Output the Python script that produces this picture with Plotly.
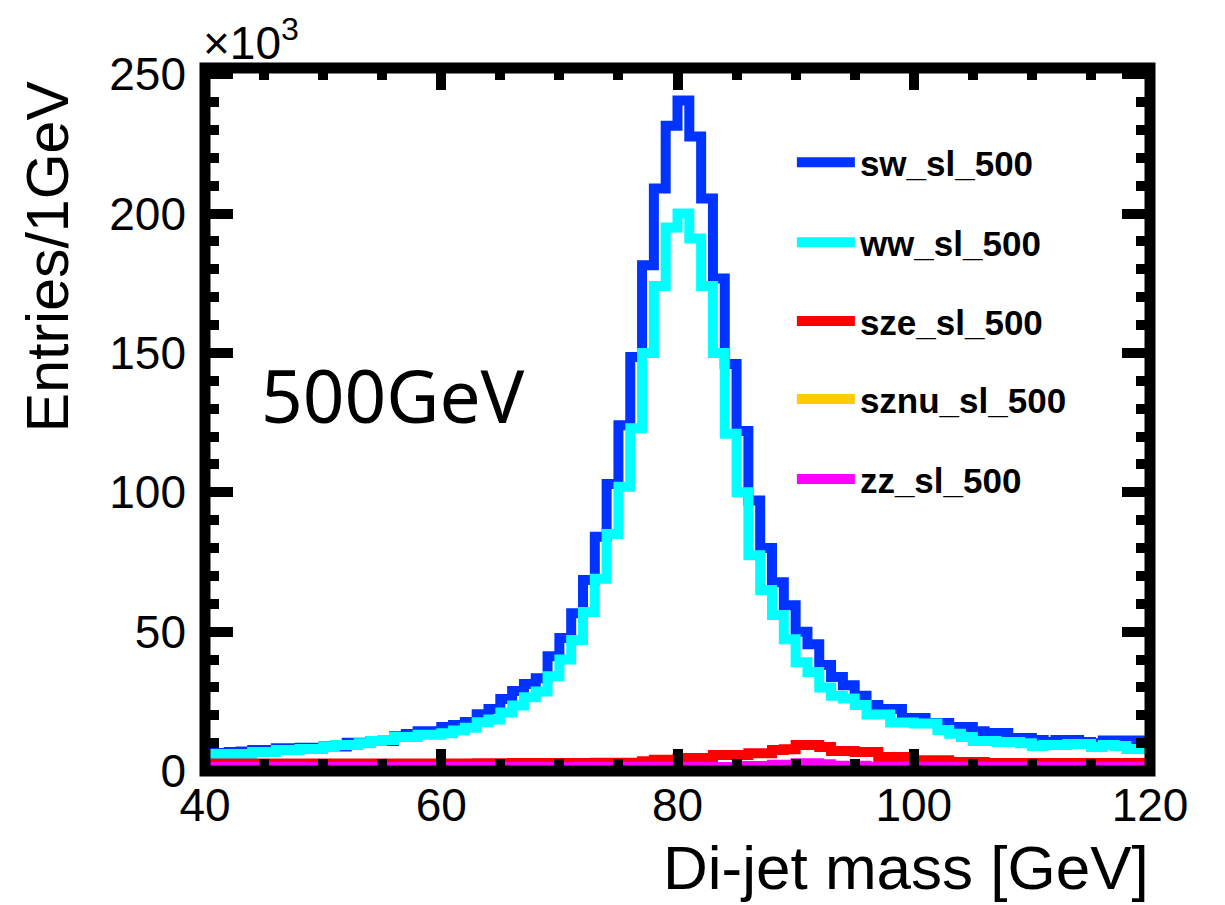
import plotly.graph_objects as go

# ---- data (thousands of entries per 1 GeV bin) ----
bin_edges = list(range(40, 121))  # 40..120 GeV, 1 GeV bins

sw_sl_500 = [
    6.5, 6.5, 6.8, 7.0, 7.5, 7.5, 8.2, 8.2, 8.3, 8.3,
    8.8, 8.8, 10.1, 10.1, 10.8, 10.8, 12.5, 13.3, 14.3, 14.3,
    15.8, 16.5, 17.6, 20.4, 22.2, 25.8, 28.7, 31.2, 33.3, 41.2,
    47.7, 56.6, 68.5, 84.0, 103.0, 124.0, 148.5, 181.4, 209.0, 231.5,
    240.5, 227.6, 205.4, 176.7, 146.0, 122.0, 97.0, 80.0, 67.7, 59.5,
    50.0, 45.5, 38.0, 33.7, 30.8, 27.0, 23.7, 22.2, 22.2, 19.0,
    19.0, 17.2, 17.2, 15.8, 15.8, 14.3, 13.6, 13.6, 11.8, 11.8,
    11.1, 10.4, 11.1, 11.1, 10.4, 10.0, 10.9, 10.9, 10.9, 10.9,
]
ww_sl_500 = [
    6.1, 6.1, 6.1, 6.1, 6.8, 6.8, 7.5, 7.5, 7.9, 7.9,
    8.6, 9.3, 9.3, 10.0, 10.8, 11.1, 12.2, 12.2, 13.0, 13.0,
    13.5, 14.5, 15.5, 17.5, 18.5, 21.0, 23.5, 26.5, 28.5, 34.0,
    40.0, 47.0, 57.0, 69.0, 85.0, 102.0, 123.0, 150.0, 174.0, 195.0,
    200.0, 191.0, 174.0, 150.0, 121.0, 100.0, 77.4, 64.9, 56.0, 47.3,
    39.0, 35.5, 30.0, 27.0, 26.0, 23.7, 20.3, 20.3, 17.4, 17.4,
    17.0, 17.0, 14.7, 13.4, 12.2, 10.8, 10.8, 10.4, 10.4, 10.0,
    9.0, 9.3, 9.3, 9.7, 9.7, 8.6, 9.3, 9.0, 7.9, 7.9,
]
sze_sl_500 = [
    2.7, 2.7, 2.7, 2.7, 2.7, 2.7, 2.7, 2.7, 2.7, 2.7,
    2.7, 2.7, 2.7, 2.7, 2.7, 2.7, 2.7, 2.7, 2.7, 2.7,
    2.7, 2.7, 2.7, 2.8, 2.8, 2.8, 2.9, 2.9, 2.9, 2.9,
    2.9, 2.9, 2.9, 3.0, 3.0, 3.0, 3.0, 3.5, 4.0, 4.0,
    4.7, 4.7, 4.7, 5.7, 5.7, 5.7, 6.4, 6.4, 7.5, 7.8,
    9.3, 9.3, 8.6, 7.2, 7.2, 6.8, 6.8, 5.0, 5.0, 5.0,
    3.9, 3.9, 3.9, 3.2, 3.2, 3.2, 2.9, 2.9, 2.9, 2.9,
    2.9, 2.9, 2.9, 2.9, 2.9, 2.9, 2.9, 2.9, 2.9, 2.9,
]
sznu_sl_500 = [
    1.1, 1.1, 1.1, 1.1, 1.1, 1.1, 1.1, 1.1, 1.1, 1.1,
    1.1, 1.1, 1.1, 1.1, 1.1, 1.1, 1.1, 1.1, 1.1, 1.1,
    1.1, 1.1, 1.1, 1.1, 1.1, 1.1, 1.1, 1.1, 1.1, 1.1,
    1.1, 1.1, 1.1, 1.1, 1.1, 1.1, 1.1, 1.1, 1.1, 1.1,
    1.1, 1.1, 1.1, 1.1, 1.1, 1.4, 1.4, 1.4, 1.8, 1.8,
    2.3, 2.3, 2.0, 1.5, 1.5, 1.5, 1.2, 1.2, 1.2, 1.2,
    1.2, 1.2, 1.2, 1.2, 1.2, 1.2, 1.2, 1.2, 1.2, 1.2,
    1.2, 1.2, 1.2, 1.2, 1.2, 1.2, 1.2, 1.2, 1.2, 1.2,
]
zz_sl_500 = [
    1.4, 1.4, 1.4, 1.4, 1.4, 1.4, 1.4, 1.4, 1.4, 1.4,
    1.4, 1.4, 1.4, 1.4, 1.4, 1.4, 1.4, 1.4, 1.4, 1.4,
    1.4, 1.4, 1.4, 1.4, 1.4, 1.4, 1.4, 1.4, 1.4, 1.4,
    1.4, 1.4, 1.4, 1.4, 1.4, 1.4, 1.4, 1.4, 1.4, 1.4,
    1.4, 1.4, 1.4, 1.4, 1.4, 1.8, 1.8, 1.8, 2.2, 2.2,
    2.8, 2.8, 2.4, 1.9, 1.9, 1.9, 1.5, 1.5, 1.5, 1.5,
    1.5, 1.5, 1.5, 1.5, 1.5, 1.5, 1.5, 1.5, 1.5, 1.5,
    1.5, 1.5, 1.5, 1.5, 1.5, 1.5, 1.5, 1.5, 1.5, 1.5,
]

series = [
    ("sw_sl_500", sw_sl_500, "#0033ff"),
    ("ww_sl_500", ww_sl_500, "#00ffff"),
    ("sze_sl_500", sze_sl_500, "#ff0000"),
    ("sznu_sl_500", sznu_sl_500, "#ffcc00"),
    ("zz_sl_500", zz_sl_500, "#ff00ff"),
]

# ---- geometry (page pixels; the page body has an 8 px margin) ----
OFF = 8
W, H = 1225 - OFF, 905 - OFF
PL, PR, PT, PB = 204.5, 1150.5, 67.5, 771.0   # plot-area edges on the page
def px(x):
    return (x - PL) / (PR - PL)
def py(y):
    return (PB - y) / (PB - PT)

fig = go.Figure()
legend_rows = [162, 242, 321, 399, 479]
legend_names = ["legend", "legend2", "legend3", "legend4", "legend5"]
for i, (name, vals, col) in enumerate(series):
    fig.add_trace(go.Scatter(
        x=bin_edges, y=vals + [vals[-1]], mode="lines", name=name,
        line=dict(color=col, width=10, shape="hv"),
        legend=legend_names[i], hoverinfo="skip",
    ))

legend_common = dict(
    xanchor="left", yanchor="middle", bgcolor="rgba(0,0,0,0)", borderwidth=0,
    font=dict(family="Liberation Sans", size=35, color="black", weight="bold"),
    itemwidth=58,
)
layout_legends = {}
for i, ln in enumerate(legend_names):
    layout_legends[ln] = dict(legend_common, x=px(792), y=py(legend_rows[i]))

font_tick = dict(family="Liberation Sans", size=46, color="black")
fig.update_layout(
    width=W, height=H,
    margin=dict(l=PL - OFF, r=W - (PR - OFF), t=PT - OFF, b=H - (PB - OFF), pad=0),
    plot_bgcolor="white", paper_bgcolor="white",
    showlegend=True,
    xaxis=dict(range=[40, 120], tick0=40, dtick=20, ticks="inside", ticklen=22,
               tickwidth=10, tickcolor="black", mirror="ticks", showline=False,
               showgrid=False, zeroline=False, tickfont=font_tick,
               ticklabelstandoff=3,
               minor=dict(dtick=5, ticks="inside", ticklen=12, tickwidth=10,
                          tickcolor="black", showgrid=False)),
    yaxis=dict(range=[0, 252.2], tick0=0, dtick=50, ticks="inside", ticklen=28,
               tickwidth=10, tickcolor="black", mirror="ticks", showline=False,
               showgrid=False, zeroline=False, tickfont=font_tick,
               ticklabelstandoff=18,
               minor=dict(dtick=10, ticks="inside", ticklen=14, tickwidth=10,
                          tickcolor="black", showgrid=False)),
    shapes=[dict(type="rect", xref="paper", yref="paper", x0=0, x1=1, y0=0, y1=1,
                 line=dict(color="black", width=11), layer="above")],
    annotations=[
        dict(text="×10<sup>3</sup>", xref="paper", yref="paper", x=px(200), y=py(71),
             xanchor="left", yanchor="bottom", showarrow=False,
             font=dict(family="Liberation Sans", size=46, color="black")),
        dict(text="500GeV", xref="paper", yref="paper", x=px(259), y=py(394),
             xanchor="left", yanchor="middle", showarrow=False,
             font=dict(family="Noto Sans", size=73, color="black")),
        dict(text="Di-jet mass [GeV]", xref="paper", yref="paper", x=px(1152), y=py(868),
             xanchor="right", yanchor="middle", showarrow=False,
             font=dict(family="Liberation Sans", size=62, color="black")),
        dict(text="Entries/1GeV", xref="paper", yref="paper", x=px(48), y=py(78),
             xanchor="center", yanchor="top", textangle=-90, showarrow=False,
             font=dict(family="Liberation Sans", size=59, color="black")),
    ],
    **layout_legends,
)

fig.write_html("out.html")
